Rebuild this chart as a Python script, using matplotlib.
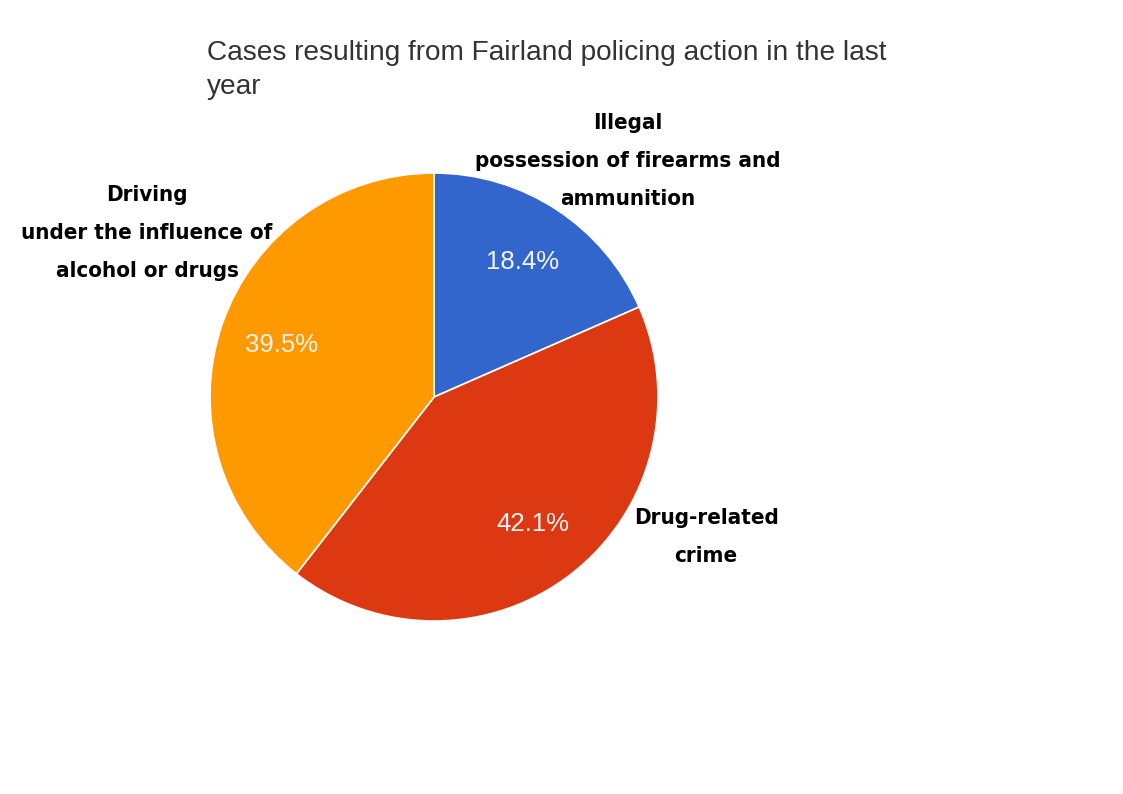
import matplotlib
matplotlib.use("Agg")
import matplotlib.pyplot as plt

# slice data (case counts), clockwise from 12 o'clock
categories = [
    "Illegal\npossession of firearms and\nammunition",
    "Drug-related\ncrime",
    "Driving\nunder the influence of\nalcohol or drugs",
]
cases = [7, 16, 15]
colors = ["#3366CC", "#DC3912", "#FF9900"]

title = "Cases resulting from Fairland policing action in the last\nyear"

W, H = 1123, 794
fig = plt.figure(figsize=(W / 100, H / 100), dpi=100)
ax = fig.add_axes([0, 0, 1, 1])

wedges, _, autotexts = ax.pie(
    cases,
    colors=colors,
    center=(434, H - 397),
    radius=224,
    startangle=90,
    counterclock=False,
    autopct="%.1f%%",
    pctdistance=0.72,
    wedgeprops=dict(edgecolor="white", linewidth=1.2),
    textprops=dict(color="#f4f4f4", fontsize=18.5, family="Liberation Sans"),
    frame=True,
)
ax.set_xlim(0, W)
ax.set_ylim(0, H)
ax.set_aspect("equal")
ax.set_axis_off()

# outside category labels
label_pos = [(628, H - 161), (706, H - 537), (147, H - 233)]
for text, (x, y) in zip(categories, label_pos):
    ax.text(x, y, text, ha="center", va="center", multialignment="center",
            fontsize=16, fontweight="bold", family="DejaVu Sans",
            fontstretch="condensed", linespacing=2.12, color="black")

ax.text(207, H - 70, title, ha="left", va="center", fontsize=20.2,
        family="Liberation Sans", color="#333333", linespacing=1.38)

fig.savefig("out.png", dpi=100)
